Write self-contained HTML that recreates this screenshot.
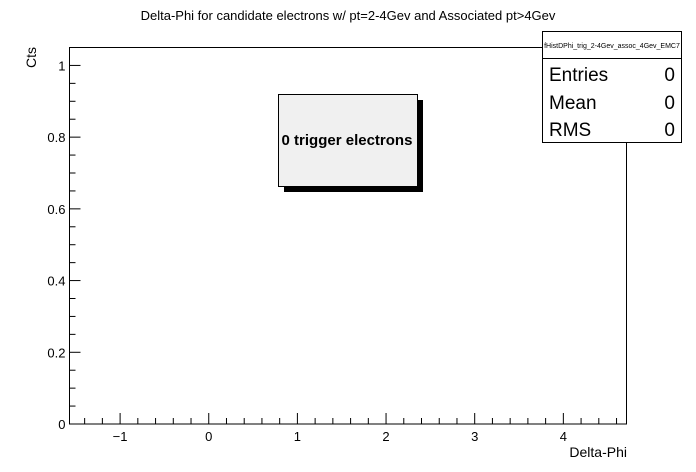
<!DOCTYPE html>
<html><head><meta charset="utf-8"><style>
body{margin:0;background:#fff;}
svg{display:block;font-family:"Liberation Sans",sans-serif;}
</style></head><body>
<svg id="c" width="696" height="472" viewBox="0 0 696 472">
<rect width="696" height="472" fill="#fff"/>
<text x="348" y="20" font-size="13" text-anchor="middle">Delta-Phi for candidate electrons w/ pt=2-4Gev and Associated pt&gt;4Gev</text>
<rect x="69.5" y="47.5" width="557" height="376.5" fill="none" stroke="#000"/>
<g id="xaxis"></g>
<g id="yaxis"></g>
<text x="627" y="457" font-size="14" text-anchor="end">Delta-Phi</text>
<text transform="translate(36,47) rotate(-90)" font-size="14" text-anchor="end">Cts</text>
<g>
<rect x="284" y="100" width="139" height="92" fill="#000"/>
<rect x="278.5" y="94.5" width="139" height="92" fill="#f0f0f0" stroke="#000"/>
<text x="347" y="145" font-size="15" font-weight="bold" text-anchor="middle">0 trigger electrons</text>
</g>
<g>
<rect x="542.5" y="31.5" width="139" height="111" fill="#fff" stroke="#000"/>
<line x1="542.5" y1="58.5" x2="681.5" y2="58.5" stroke="#000"/>
<text x="612" y="48" font-size="7" text-anchor="middle">fHistDPhi_trig_2-4Gev_assoc_4Gev_EMC7</text>
<text x="549" y="81" font-size="19">Entries</text><text x="675" y="81" font-size="19" text-anchor="end">0</text>
<text x="549" y="109" font-size="19">Mean</text><text x="675" y="109" font-size="19" text-anchor="end">0</text>
<text x="549" y="136" font-size="19">RMS</text><text x="675" y="136" font-size="19" text-anchor="end">0</text>
</g>
</svg>
<script>
const xTickLabels=[-1,0,1,2,3,4];
const yTickLabels=[0,0.2,0.4,0.6,0.8,1];
const xMin=-1.5708,xMax=4.7124,yMin=0,yMax=1.05;
const L=69.5,R=626.5,T=47.5,B=424;
const sx=v=>L+(v-xMin)/(xMax-xMin)*(R-L);
const sy=v=>B-(v-yMin)/(yMax-yMin)*(B-T);
const NS="http://www.w3.org/2000/svg";
function mk(tag,attrs,parent){const e=document.createElementNS(NS,tag);for(const k in attrs)e.setAttribute(k,attrs[k]);parent.appendChild(e);return e;}
const xa=document.getElementById('xaxis'),ya=document.getElementById('yaxis');
for(let i=-7;i<=23;i++){const v=i*0.2;if(v<xMin||v>xMax)continue;const x=sx(v);const maj=i%5===0;
 const l=mk('line',{x1:x,x2:x,y1:B,y2:B-(maj?11:6),stroke:'#000'},xa);
 
 }
xTickLabels.forEach(v=>{const t=mk('text',{x:sx(v),y:B+17,'font-size':13,'text-anchor':'middle'},xa);t.textContent=v<0?'\u2212'+(-v):String(v);
 
 });
for(let i=0;i<=21;i++){const v=i*0.05;if(v>yMax+1e-9)continue;const y=sy(v);const maj=i%4===0;
 const l=mk('line',{x1:L,x2:L+(maj?11:6),y1:y,y2:y,stroke:'#000'},ya);
 
 }
yTickLabels.forEach(v=>{const t=mk('text',{x:L-4,y:sy(v)+5,'font-size':13,'text-anchor':'end'},ya);t.textContent=String(v);
 
 });
</script>
</body></html>
